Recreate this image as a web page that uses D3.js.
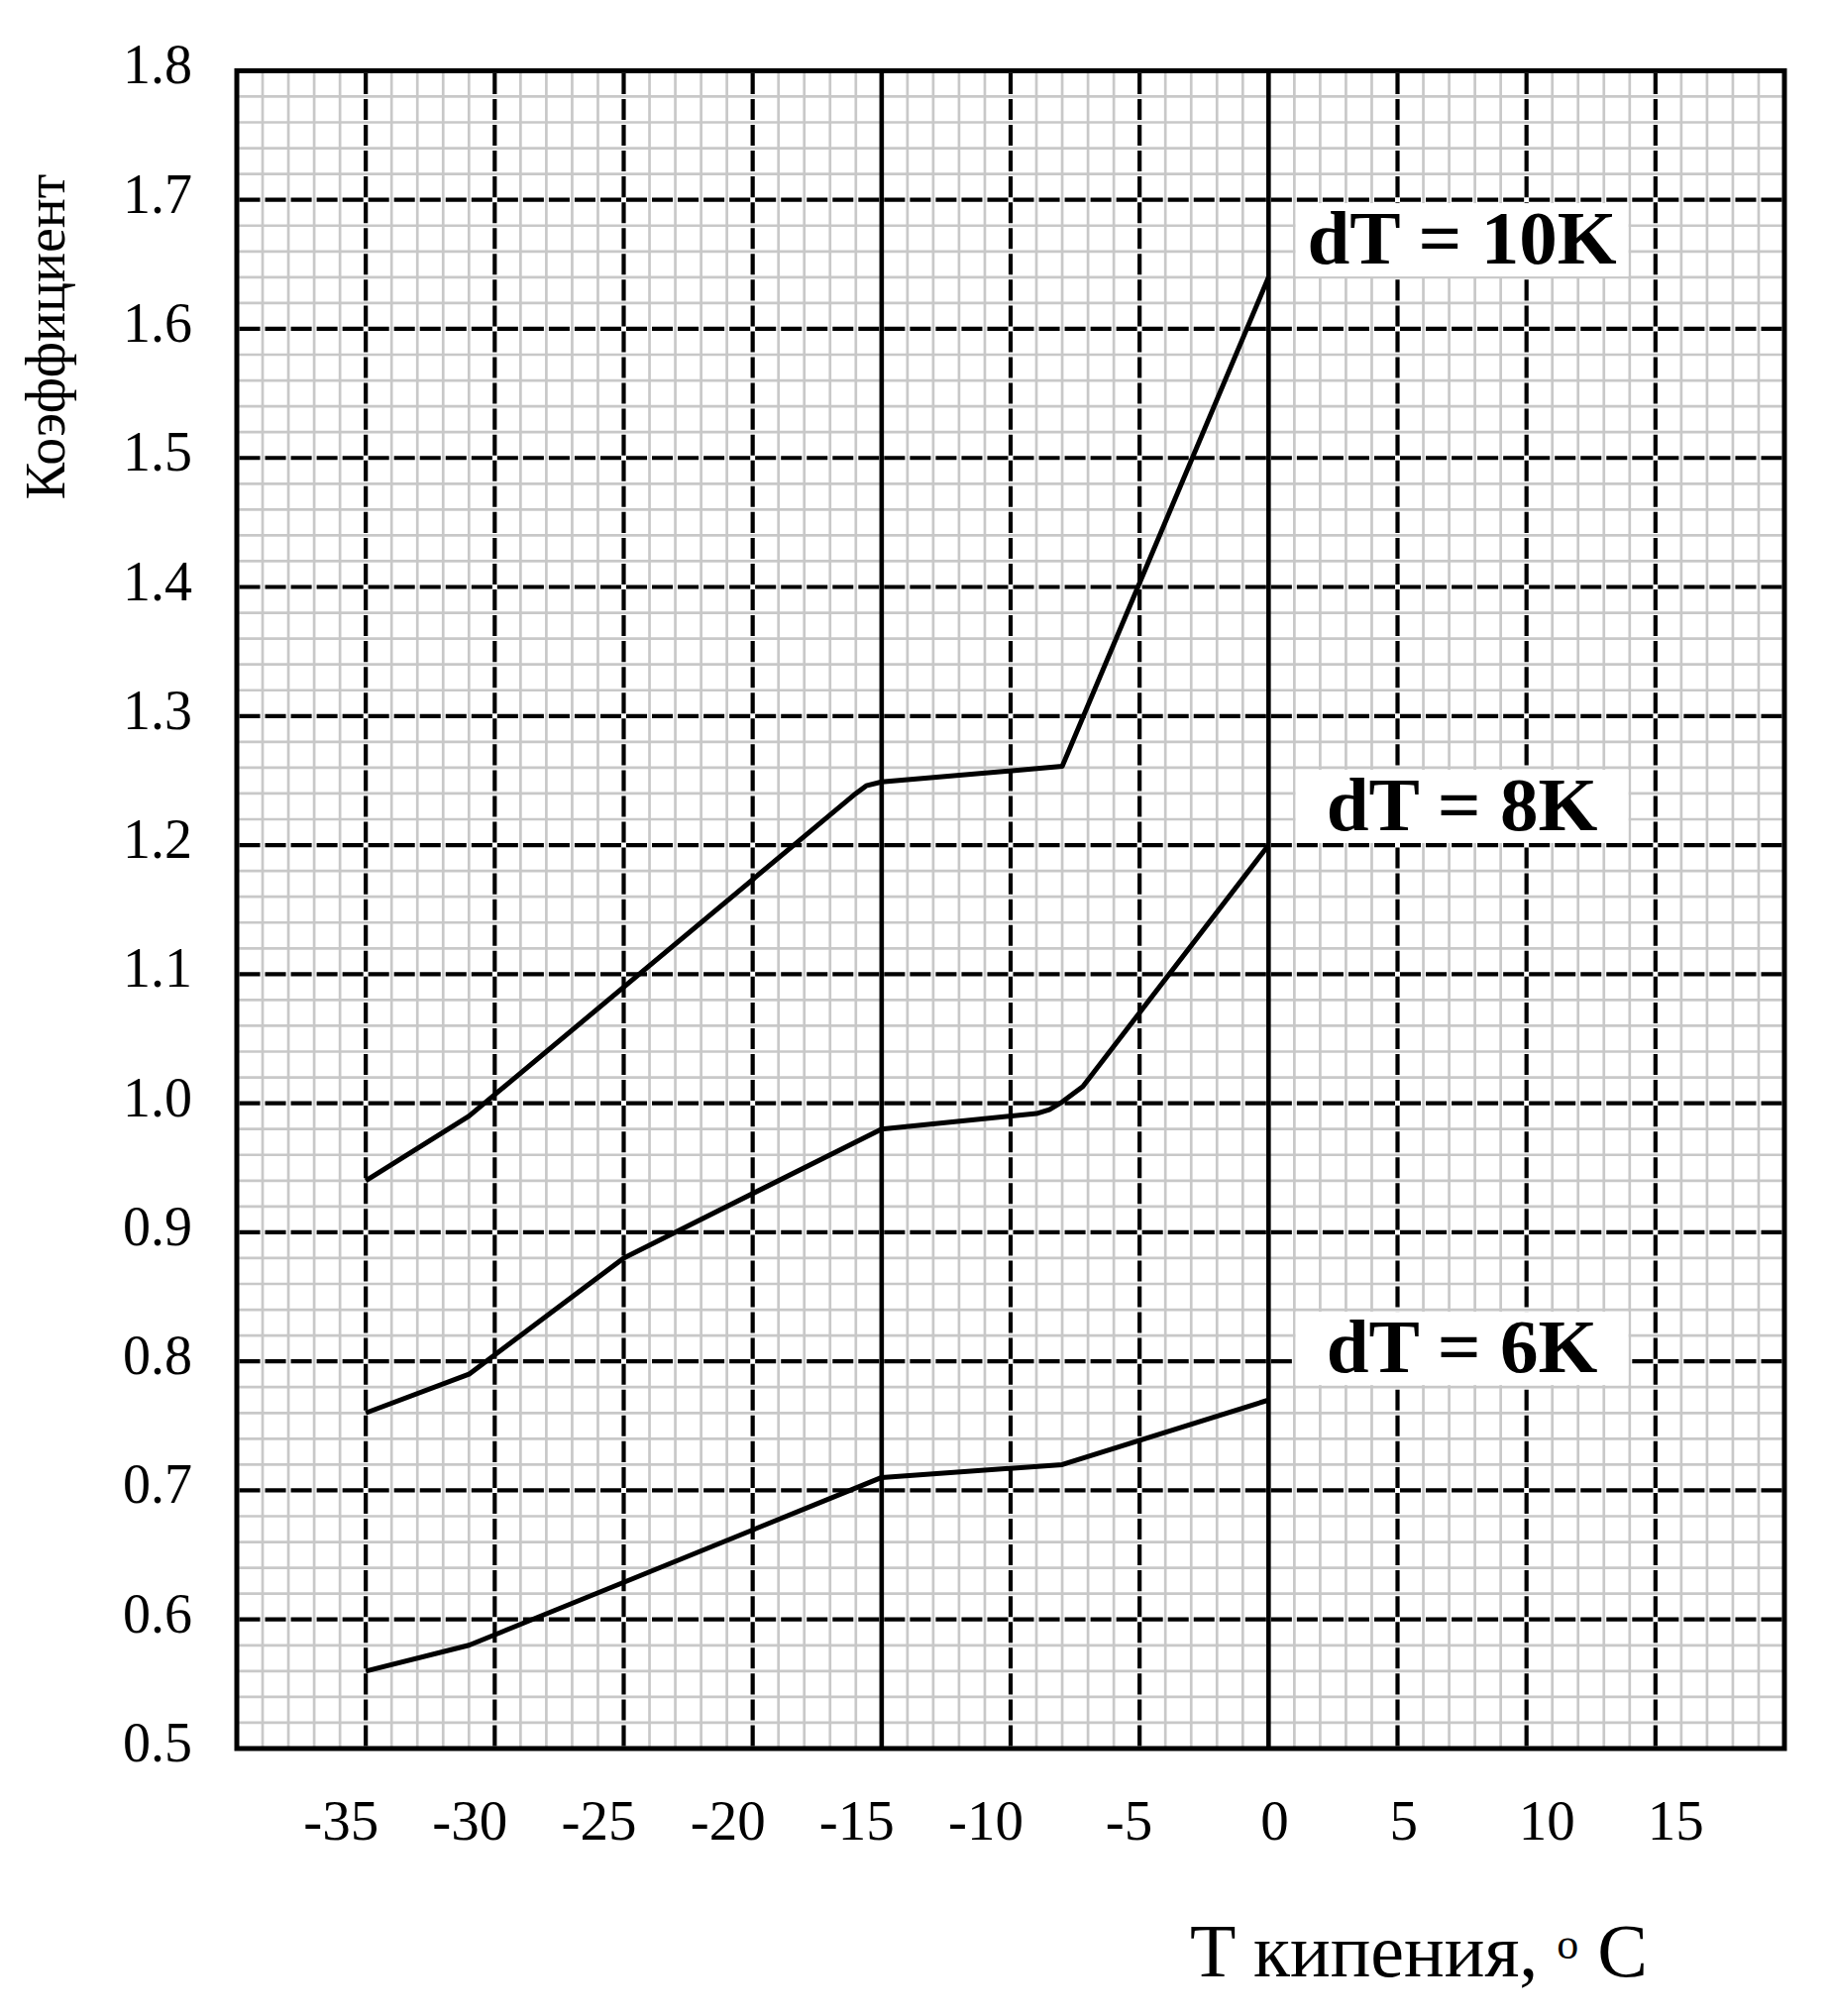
<!DOCTYPE html>
<html><head><meta charset="utf-8">
<script src="https://cdn.jsdelivr.net/npm/d3@7"></script>
<style>html,body{margin:0;padding:0;background:#fff;} svg{display:block;}</style>
</head><body>
<svg id="chart" width="1849" height="2035"></svg>
<script>
// ---- data ----
const tempTicks = [-35, -30, -25, -20, -15, -10, -5, 0, 5, 10, 15];
const coefTicks = [0.5, 0.6, 0.7, 0.8, 0.9, 1.0, 1.1, 1.2, 1.3, 1.4, 1.5, 1.6, 1.7, 1.8];
const solidTemps = [-15, 0];
const seriesNames = ["dT = 10K", "dT = 8K", "dT = 6K"];
const series10 = [[-35, 0.94], [-31, 0.99], [-16, 1.24], [-15.6, 1.246], [-15, 1.249], [-8, 1.261], [0, 1.64]];
const series8 = [[-35, 0.76], [-31, 0.79], [-25, 0.88], [-15, 0.98], [-9, 0.992], [-8.5, 0.995], [-8, 1.001], [-7.2, 1.013], [0, 1.2]];
const series6 = [[-35, 0.56], [-31, 0.58], [-15, 0.71], [-8, 0.72], [0, 0.77]];
const labelAnchors = [[7.5, 1.669], [7.5, 1.23], [7.5, 0.81]];
const yTitle = "Коэффициент";
const xTitleParts = ["T кипения, ", "o", " C"];

// ---- scales ----
const x = d3.scaleLinear().domain([-40, 20]).range([239, 1801]);
const y = d3.scaleLinear().domain([0.5, 1.8]).range([1765, 71.4]);
const svg = d3.select("#chart");
const FONT = "'Liberation Serif', 'Times New Roman', serif";

svg.append("rect").attr("width", 1849).attr("height", 2035).attr("fill", "#fff");

const x0 = x(-40), x1 = x(20), yT = y(1.8), yB = y(0.5);
const sx = x(1) - x(0);
const sy = y(0.5) - y(0.52);
const gap = 5;

// minor grid
const minorX = d3.range(-40, 21).filter(v => v % 5 !== 0);
const minorY = d3.range(0, 66).filter(i => i % 5 !== 0).map(i => 0.5 + i * 0.02);
const gMinor = svg.append("g").attr("stroke", "#c8c8c8").attr("stroke-width", 2.7);
gMinor.selectAll("line.vx").data(minorX).join("line")
  .attr("x1", d => x(d)).attr("x2", d => x(d)).attr("y1", yT).attr("y2", yB);
gMinor.selectAll("line.hy").data(minorY).join("line")
  .attr("y1", d => y(d)).attr("y2", d => y(d)).attr("x1", x0).attr("x2", x1);

// major dashed grid
const gMajor = svg.append("g").attr("stroke", "#000").attr("stroke-width", 4.2);
gMajor.selectAll("line.mx").data(tempTicks.filter(v => !solidTemps.includes(v))).join("line")
  .attr("x1", d => x(d)).attr("x2", d => x(d)).attr("y1", yT).attr("y2", yB)
  .attr("stroke-dasharray", `${sy - gap},${gap}`).attr("stroke-dashoffset", -gap / 2);
gMajor.selectAll("line.my").data(coefTicks.slice(1, -1)).join("line")
  .attr("y1", d => y(d)).attr("y2", d => y(d)).attr("x1", x0).attr("x2", x1)
  .attr("stroke-dasharray", `${sx - gap},${gap}`).attr("stroke-dashoffset", -gap / 2);
gMajor.selectAll("line.sx").data(solidTemps).join("line")
  .attr("stroke-width", 4.6)
  .attr("x1", d => x(d)).attr("x2", d => x(d)).attr("y1", yT).attr("y2", yB);

// border
svg.append("rect").attr("x", x0).attr("y", yT).attr("width", x1 - x0).attr("height", yB - yT)
  .attr("fill", "none").attr("stroke", "#000").attr("stroke-width", 5);

// curves
const line = d3.line().x(d => x(d[0])).y(d => y(d[1])).curve(d3.curveLinear);
svg.append("g").selectAll("path").data([series10, series8, series6]).join("path")
  .attr("d", line).attr("fill", "none").attr("stroke", "#000").attr("stroke-width", 5)
  .attr("stroke-linejoin", "round").attr("stroke-linecap", "butt");

// series labels
const gLab = svg.append("g");
seriesNames.forEach((name, i) => {
  const cx = x(labelAnchors[i][0]), cy = y(labelAnchors[i][1]);
  gLab.append("rect").attr("x", cx - 168).attr("y", cy - 37).attr("width", 336).attr("height", 74).attr("fill", "#fff");
  gLab.append("text").attr("x", cx).attr("y", cy + 24).attr("text-anchor", "middle")
    .attr("font-family", FONT).attr("font-weight", "bold").attr("font-size", 77).text(name);
});

// y tick labels
svg.append("g").selectAll("text").data(coefTicks).join("text")
  .attr("x", 194).attr("y", d => y(d) + 13).attr("text-anchor", "end")
  .attr("font-family", FONT).attr("font-size", 56).text(d => d.toFixed(1));

// x tick labels
svg.append("g").selectAll("text").data(tempTicks).join("text")
  .attr("x", d => d < 0 ? x(d) + 13 : x(d) - 8).attr("y", 1857)
  .attr("text-anchor", d => d < 0 ? "end" : "start")
  .attr("font-family", FONT).attr("font-size", 57).text(d => String(d));

// y title
svg.append("text").attr("transform", "translate(65,340) rotate(-90)").attr("text-anchor", "middle")
  .attr("font-family", FONT).attr("font-size", 56).text(yTitle);

// x title
const xt = svg.append("text").attr("x", 1201).attr("y", 1995).attr("font-family", FONT).attr("font-size", 76);
xt.append("tspan").text(xTitleParts[0]);
xt.append("tspan").attr("font-size", 44).attr("dy", -18).text(xTitleParts[1]);
xt.append("tspan").attr("dy", 18).text(xTitleParts[2]);
</script>
</body></html>
